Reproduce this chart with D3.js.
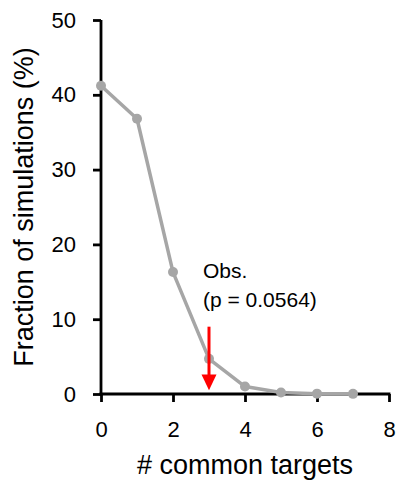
<!DOCTYPE html>
<html><head><meta charset="utf-8">
<script src="https://cdn.jsdelivr.net/npm/d3@7"></script>
<style>body{margin:0;background:#fff}</style>
</head><body>
<script>
const xValues = [0, 1, 2, 3, 4, 5, 6, 7];
const fractions = [41.2, 36.8, 16.3, 4.7, 1.0, 0.2, 0.05, 0.02];
const xTicks = [0, 2, 4, 6, 8];
const yTicks = [0, 10, 20, 30, 40, 50];
const observed = 3;
const annotation = ["Obs.", "(p = 0.0564)"];

const W = 398, H = 488;
const font = "'Liberation Sans', Arial, sans-serif";
const svg = d3.select("body").append("svg").attr("width", W).attr("height", H);
const x = d3.scaleLinear().domain([0, 8]).range([101, 389]);
const y = d3.scaleLinear().domain([0, 50]).range([394, 20]);

const gx = svg.append("g").attr("transform", `translate(0,${y(0)})`)
  .call(d3.axisBottom(x).tickValues(xTicks).tickSize(8).tickPadding(12).tickSizeOuter(0));
const gy = svg.append("g").attr("transform", `translate(${x(0)},0)`)
  .call(d3.axisLeft(y).tickValues(yTicks).tickSize(8).tickPadding(17).tickSizeOuter(0));
[gx, gy].forEach(g => {
  g.select(".domain").attr("stroke", "#000").attr("stroke-width", 2.8);
  g.selectAll(".tick line").attr("stroke", "#000").attr("stroke-width", 2.8);
  g.selectAll(".tick text").attr("fill", "#000").style("font-family", font).style("font-size", "22px");
});
gx.selectAll(".tick text").attr("dy", null).attr("y", 0).attr("dy", "0").attr("transform", "translate(0,43)");
gy.select(".domain").attr("d", `M0,${y(50)}V${y(0)+1.4}`);
gx.select(".domain").attr("d", `M${x(0)-1.4},0H${x(8)+1.4}`);

const data = xValues.map((v, i) => [v, fractions[i]]);
svg.append("path").datum(data)
  .attr("fill", "none").attr("stroke", "#A6A6A6").attr("stroke-width", 3.5)
  .attr("stroke-linejoin", "round")
  .attr("d", d3.line().x(d => x(d[0])).y(d => y(d[1])));
svg.selectAll("circle.pt").data(data).join("circle").attr("class", "pt")
  .attr("cx", d => x(d[0])).attr("cy", d => y(d[1])).attr("r", 5)
  .attr("fill", "#A6A6A6");

// arrow
const ax = x(observed);
svg.append("line").attr("x1", ax).attr("x2", ax).attr("y1", y(9.0)).attr("y2", y(2.5))
  .attr("stroke", "#FF0000").attr("stroke-width", 3);
svg.append("path")
  .attr("d", `M${ax-7.5},${y(2.6)}L${ax+7.5},${y(2.6)}L${ax},${y(0.5)}Z`)
  .attr("fill", "#FF0000");

svg.append("g").selectAll("text").data(annotation).join("text")
  .attr("x", 203).attr("y", (d, i) => 278 + i * 29)
  .style("font-family", font).style("font-size", "21px").attr("fill", "#000")
  .text(d => d);

svg.append("text").attr("x", 245).attr("y", 474)
  .attr("text-anchor", "middle").style("font-family", font).style("font-size", "27px")
  .text("# common targets");
svg.append("text").attr("transform", `translate(33,207) rotate(-90)`)
  .attr("text-anchor", "middle").style("font-family", font).style("font-size", "27px")
  .text("Fraction of simulations (%)");
</script>
</body></html>
